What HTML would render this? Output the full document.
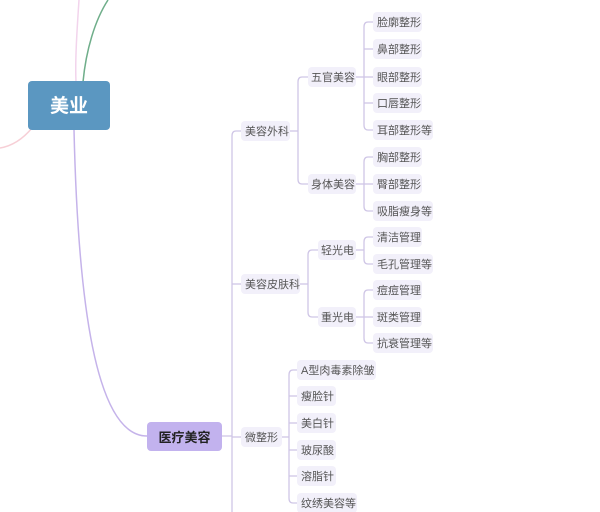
<!DOCTYPE html>
<html><head><meta charset="utf-8"><style>
html,body{margin:0;padding:0;background:#fff;width:600px;height:512px;overflow:hidden}
svg{display:block}
text{font-family:"Liberation Sans","Noto Sans CJK SC",sans-serif}
</style></head><body>
<svg width="600" height="512" viewBox="0 0 600 512" xmlns="http://www.w3.org/2000/svg">
<g fill="none" stroke-width="1.5">
<path d="M79,0 C77,30 75,60 76,82" stroke="#f2d4ec"/>
<path d="M108,0 C95,20 86,50 83,82" stroke="#6fae8a"/>
<path d="M32,128 C22,140 12,146 0,148" stroke="#f7cfd6"/>
<path d="M74,130 C78,300 95,436 147,436" stroke="#c5b3ea"/>
</g>
<g fill="none" stroke="#cfc6e6" stroke-width="1.3">
<line x1="222" y1="436" x2="232" y2="436"/>
<path d="M241,131 H236 Q232,131 232,136 V512"/>
<line x1="232" y1="284" x2="241" y2="284"/>
<line x1="232" y1="437" x2="241" y2="437"/>
<line x1="290" y1="131" x2="298" y2="131"/>
<path d="M308,77 H302 Q298,77 298,82 V179 Q298,184 302,184 H308"/>
<line x1="356" y1="77" x2="364" y2="77"/>
<path d="M373,22 H368 Q364,22 364,27 V125 Q364,130 368,130 H373"/>
<line x1="364" y1="49" x2="373" y2="49"/><line x1="364" y1="77" x2="373" y2="77"/><line x1="364" y1="103" x2="373" y2="103"/>
<line x1="356" y1="184" x2="364" y2="184"/>
<path d="M373,157 H368 Q364,157 364,162 V206 Q364,211 368,211 H373"/>
<line x1="364" y1="184" x2="373" y2="184"/>
<line x1="300" y1="284" x2="308" y2="284"/>
<path d="M318,250 H312 Q308,250 308,255 V312 Q308,317 312,317 H318"/>
<line x1="356" y1="250" x2="364" y2="250"/>
<path d="M373,237 H368 Q364,237 364,242 V259 Q364,264 368,264 H373"/>
<line x1="356" y1="317" x2="364" y2="317"/>
<path d="M373,290 H368 Q364,290 364,295 V338 Q364,343 368,343 H373"/>
<line x1="364" y1="317" x2="373" y2="317"/>
<line x1="282" y1="437" x2="289" y2="437"/>
<path d="M297,370 H293 Q289,370 289,375 V498 Q289,503 293,503 H297"/>
<line x1="289" y1="396" x2="297" y2="396"/><line x1="289" y1="423" x2="297" y2="423"/><line x1="289" y1="450" x2="297" y2="450"/><line x1="289" y1="476" x2="297" y2="476"/>
</g>
<rect x="28" y="81" width="82" height="49" rx="4" fill="#5b97c1"/>
<text x="69" y="112" font-size="19" font-weight="bold" fill="#fff" text-anchor="middle">美业</text>
<rect x="147" y="422" width="75" height="29" rx="4" fill="#c2b2ee"/>
<text x="184.5" y="442" font-size="13" font-weight="bold" fill="#222" text-anchor="middle">医疗美容</text>
<g font-size="11" fill="#555">
<g fill="#f2f0fa">
<rect x="241" y="121" width="49" height="20" rx="4"/>
<rect x="241" y="274" width="59" height="20" rx="4"/>
<rect x="241" y="427" width="41" height="20" rx="4"/>
<rect x="308" y="67" width="48" height="20" rx="4"/>
<rect x="308" y="174" width="48" height="20" rx="4"/>
<rect x="318" y="240" width="38" height="20" rx="4"/>
<rect x="318" y="307" width="38" height="20" rx="4"/>
<rect x="373" y="12" width="49" height="20" rx="4"/>
<rect x="373" y="39" width="49" height="20" rx="4"/>
<rect x="373" y="67" width="49" height="20" rx="4"/>
<rect x="373" y="93" width="49" height="20" rx="4"/>
<rect x="373" y="120" width="60" height="20" rx="4"/>
<rect x="373" y="147" width="49" height="20" rx="4"/>
<rect x="373" y="174" width="49" height="20" rx="4"/>
<rect x="373" y="201" width="60" height="20" rx="4"/>
<rect x="373" y="227" width="49" height="20" rx="4"/>
<rect x="373" y="254" width="60" height="20" rx="4"/>
<rect x="373" y="280" width="49" height="20" rx="4"/>
<rect x="373" y="307" width="49" height="20" rx="4"/>
<rect x="373" y="333" width="60" height="20" rx="4"/>
<rect x="297" y="360" width="79" height="20" rx="4"/>
<rect x="297" y="386" width="39" height="20" rx="4"/>
<rect x="297" y="413" width="39" height="20" rx="4"/>
<rect x="297" y="440" width="39" height="20" rx="4"/>
<rect x="297" y="466" width="39" height="20" rx="4"/>
<rect x="297" y="493" width="60" height="20" rx="4"/>
</g>
<text x="245" y="135">美容外科</text>
<text x="245" y="288">美容皮肤科</text>
<text x="245" y="441">微整形</text>
<text x="311" y="81">五官美容</text>
<text x="311" y="188">身体美容</text>
<text x="321" y="254">轻光电</text>
<text x="321" y="321">重光电</text>
<text x="377" y="26">脸廓整形</text>
<text x="377" y="53">鼻部整形</text>
<text x="377" y="81">眼部整形</text>
<text x="377" y="107">口唇整形</text>
<text x="377" y="134">耳部整形等</text>
<text x="377" y="161">胸部整形</text>
<text x="377" y="188">臀部整形</text>
<text x="377" y="215">吸脂瘦身等</text>
<text x="377" y="241">清洁管理</text>
<text x="377" y="268">毛孔管理等</text>
<text x="377" y="294">痘痘管理</text>
<text x="377" y="321">斑类管理</text>
<text x="377" y="347">抗衰管理等</text>
<text x="301" y="374">A型肉毒素除皱</text>
<text x="301" y="400">瘦脸针</text>
<text x="301" y="427">美白针</text>
<text x="301" y="454">玻尿酸</text>
<text x="301" y="480">溶脂针</text>
<text x="301" y="507">纹绣美容等</text>
</g>
</svg>
</body></html>
